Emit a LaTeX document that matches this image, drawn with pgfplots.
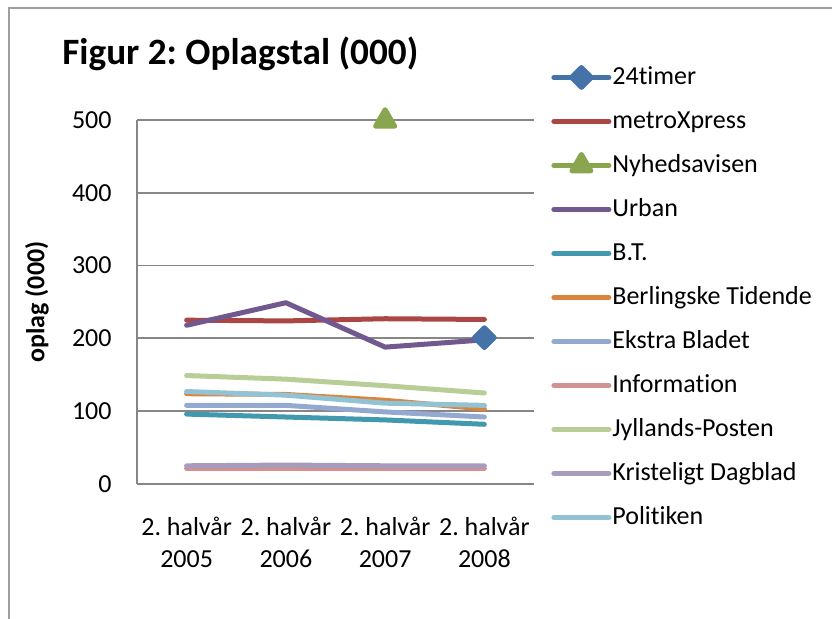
\documentclass[border=0pt]{standalone}
\usepackage{fontspec}
\setmainfont{Carlito}[Ligatures=NoCommon]
\usepackage{pgfplots}
\pgfplotsset{compat=1.18}
\frenchspacing

\definecolor{c24}{HTML}{4572A7}
\definecolor{cmx}{HTML}{AA4643}
\definecolor{cny}{HTML}{89A54E}
\definecolor{cur}{HTML}{71588F}
\definecolor{cbt}{HTML}{4198AF}
\definecolor{cbe}{HTML}{DB843D}
\definecolor{cek}{HTML}{93A9CF}
\definecolor{cin}{HTML}{D19392}
\definecolor{cjy}{HTML}{B9CD96}
\definecolor{ckr}{HTML}{A99BBD}
\definecolor{cpo}{HTML}{91C3D5}
\definecolor{gridgray}{HTML}{868686}

\begin{document}
\begin{tikzpicture}
\useasboundingbox (0,0) rectangle (416pt,309.5pt);
% chart frame (cropped at right and bottom)
\draw[gridgray!80, line width=0.8pt] (4.5pt,0) -- (4.5pt,305.5pt) -- (416pt,305.5pt);

\node[anchor=base west, inner sep=0pt, font=\fontsize{18.6}{22}\selectfont\bfseries]
  at (31pt,277pt) {Figur 2: Oplagstal (000)};
\node[rotate=90, inner sep=0pt, font=\fontsize{13}{16}\selectfont\bfseries]
  at (18.5pt,158.5pt) {oplag (000)};

\begin{axis}[
    at={(68.5pt,67.5pt)}, anchor=south west,
    scale only axis,
    width=198.5pt, height=182pt,
    xmin=-0.5, xmax=3.5,
    ymin=0, ymax=500,
    xtick={0,1,2,3},
    xticklabels={{2. halvår\\2005},{2. halvår\\2006},{2. halvår\\2007},{2. halvår\\2008}},
    ytick={0,100,200,300,400,500},
    major tick length=0pt,
    axis x line*=bottom, axis y line*=left,
    axis line style={gridgray, line width=0.9pt, -},
    ymajorgrids, grid style={gridgray, line width=0.9pt},
    xticklabel style={anchor=north, inner sep=0pt, yshift=-16.5pt, align=center,
        font=\fontsize{13}{16}\selectfont},
    yticklabel style={anchor=east, inner sep=0pt, xshift=-12.5pt,
        font=\fontsize{13}{16}\selectfont},
    /pgf/number format/assume math mode=true,
    every axis plot/.append style={line width=2.5pt, line cap=round, line join=round},
    legend cell align=left,
    legend style={at={(1.0428,1.151)}, anchor=north west, draw=none, fill=none,
        inner sep=0pt, row sep=10pt, column sep=0.5pt,
        font=\fontsize{13}{16}\selectfont,
        nodes={inner sep=0pt, text height=9.5pt, text depth=2.5pt}},
    legend image code/.code={%
        \draw[mark repeat=2, mark phase=2, #1] plot coordinates {(0pt,0pt) (13.75pt,0pt) (27.5pt,0pt)};},
]
\addplot[c24, mark=square*, mark size=3.5pt, mark options={rotate=45}] coordinates {(3,201)};
\addlegendentry{24timer}
\addplot[cmx] coordinates {(0,225) (1,224) (2,227) (3,226)};
\addlegendentry{metroXpress}
\addplot[cny, mark=triangle*, mark size=5.5pt] coordinates {(2,499)};
\addlegendentry{Nyhedsavisen}
\addplot[cur] coordinates {(0,218) (1,249) (2,188) (3,198)};
\addlegendentry{Urban}
\addplot[cbt] coordinates {(0,96) (1,92) (2,88) (3,82)};
\addlegendentry{B.T.}
\addplot[cbe] coordinates {(0,124) (1,123) (2,115) (3,103)};
\addlegendentry{Berlingske Tidende}
\addplot[cek] coordinates {(0,108) (1,108) (2,99) (3,92)};
\addlegendentry{Ekstra Bladet}
\addplot[cin] coordinates {(0,21) (1,21) (2,21) (3,21)};
\addlegendentry{Information}
\addplot[cjy] coordinates {(0,149) (1,144) (2,135) (3,125)};
\addlegendentry{Jyllands-Posten}
\addplot[ckr] coordinates {(0,25) (1,26) (2,25) (3,25)};
\addlegendentry{Kristeligt Dagblad}
\addplot[cpo] coordinates {(0,127) (1,122) (2,111) (3,108)};
\addlegendentry{Politiken}
\end{axis}
\end{tikzpicture}
\end{document}
